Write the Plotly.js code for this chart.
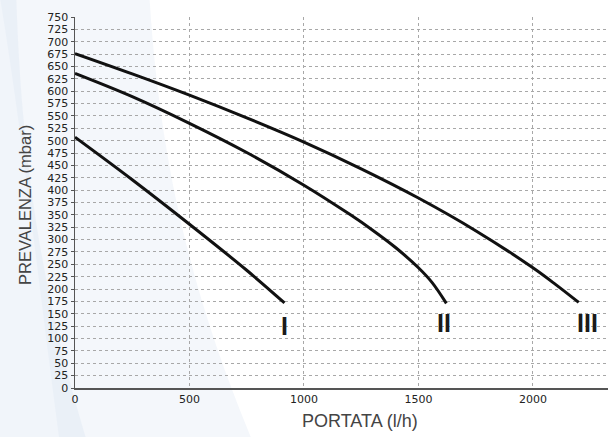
<!DOCTYPE html>
<html>
<head>
<meta charset="utf-8">
<script src="https://cdn.plot.ly/plotly-3.0.1.min.js"></script>
<style>html,body{margin:0;padding:0;background:#fff;}#chart{width:611px;height:437px;}</style>
</head>
<body>
<div id="chart"></div>
<script>
// Curve I
const flowI = [0, 250, 500, 750, 915];
const headI = [507, 421, 331, 238, 172];
// Curve II
const flowII = [0, 250, 500, 750, 1000, 1200, 1300, 1400, 1500, 1560, 1622];
const headII = [636, 589, 535, 476, 410, 351, 319, 284, 243, 213, 171];
// Curve III
const flowIII = [0, 250, 500, 750, 1000, 1250, 1500, 1750, 2000, 2100, 2200];
const headIII = [676, 635, 592, 546, 497, 443, 384, 318, 243, 209, 173];

const curveLabels = ["I", "II", "III"];
const labelX = [915, 1613, 2240];
const labelY = [125, 131, 131];

const xTitle = "PORTATA (l/h)";
const yTitle = "PREVALENZA (mbar)";

const yTicks = [];
for (let v = 0; v <= 750; v += 25) yTicks.push(v);
const yGrid = yTicks.filter(v => v > 0 && v < 750);
const xTicks = [0, 500, 1000, 1500, 2000];

const lineStyle = {color: '#111', width: 3, shape: 'spline', smoothing: 1};
const traces = [
  {x: flowI, y: headI, mode: 'lines', line: lineStyle, hoverinfo: 'skip'},
  {x: flowII, y: headII, mode: 'lines', line: lineStyle, hoverinfo: 'skip'},
  {x: flowIII, y: headIII, mode: 'lines', line: lineStyle, hoverinfo: 'skip'},
  {x: [], y: [], yaxis: 'y2', mode: 'lines', hoverinfo: 'skip'}
];

const annotations = curveLabels.map((t, i) => ({
  x: labelX[i], y: labelY[i], xref: 'x', yref: 'y', text: t, showarrow: false,
  font: {family: 'Liberation Sans, Arial, sans-serif', size: 25, color: '#1a1a1a', weight: 'bold'}
}));
annotations.push({
  x: 0.535, y: -0.09, xref: 'paper', yref: 'paper', text: xTitle, showarrow: false,
  xanchor: 'center', yanchor: 'middle',
  font: {family: 'Liberation Sans, Arial, sans-serif', size: 18, color: '#444'}
});
annotations.push({
  x: -0.094, y: 0.493, xref: 'paper', yref: 'paper', text: yTitle, showarrow: false,
  textangle: -90, xanchor: 'center', yanchor: 'middle',
  font: {family: 'Liberation Sans, Arial, sans-serif', size: 16.5, color: '#444'}
});

const layout = {
  width: 611, height: 437,
  margin: {l: 75, r: 3, t: 17, b: 49},
  paper_bgcolor: '#fff', plot_bgcolor: 'rgba(0,0,0,0)',
  showlegend: false,
  font: {family: 'DejaVu Sans, sans-serif', size: 11, color: '#222'},
  xaxis: {
    range: [0, 2328], tickvals: xTicks, ticktext: xTicks.map(String),
    showgrid: true, gridcolor: '#a8a8a8', griddash: 'dot', gridwidth: 1,
    zeroline: false, showline: true, linecolor: '#555', linewidth: 1.5,
    ticks: '', tickfont: {family: 'DejaVu Sans, sans-serif', size: 11, color: '#222'}
  },
  yaxis: {
    range: [0, 750], tickvals: yTicks, ticktext: yTicks.map(String),
    showgrid: false, zeroline: false, showline: true, linecolor: '#555', linewidth: 1.5,
    ticks: 'outside', ticklen: 3, tickcolor: '#555',
    tickfont: {family: 'DejaVu Sans, sans-serif', size: 11, color: '#222'}
  },
  yaxis2: {
    overlaying: 'y', range: [0, 750], tickvals: yGrid, showticklabels: false,
    showgrid: true, gridcolor: '#a8a8a8', griddash: 'dot', gridwidth: 1,
    zeroline: false, showline: false, ticks: ''
  },
  shapes: [
    {type: 'path', xref: 'paper', yref: 'paper', layer: 'below',
     path: 'M -0.14 1.046 L 0.14 1.046 C 0.16 0.6, 0.22 0.25, 0.33 -0.133 L -0.03 -0.133 C -0.07 0.3, -0.1 0.7, -0.14 1.046 Z',
     fillcolor: 'rgba(228,235,246,0.4)', line: {width: 0}},
    {type: 'path', xref: 'paper', yref: 'paper', layer: 'below',
     path: 'M -0.141 1.046 L -0.11 1.046 C -0.1 0.6, -0.06 0.25, 0.02 -0.133 L -0.141 -0.133 Z',
     fillcolor: 'rgba(220,229,243,0.4)', line: {width: 0}}
  ],
  annotations: annotations
};

Plotly.newPlot('chart', traces, layout, {staticPlot: true, displayModeBar: false});
</script>
</body>
</html>
